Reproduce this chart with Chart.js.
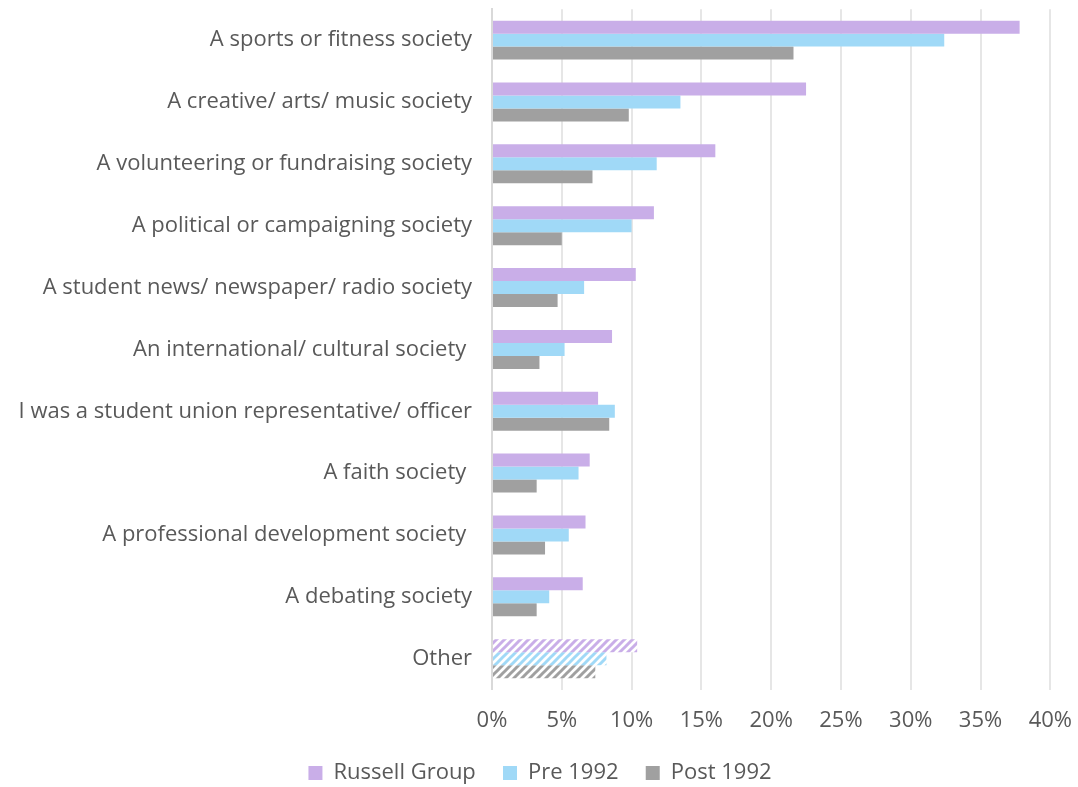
<!DOCTYPE html>
<html>
<head>
<meta charset="utf-8">
<script src="https://cdn.jsdelivr.net/npm/chart.js@4/dist/chart.umd.min.js"></script>
<style>
  html, body { margin: 0; padding: 0; background: #fff; }
  #wrap { width: 1078px; height: 787px; position: relative; overflow: hidden; }
  #inner { position: absolute; left: 0; top: -24px; width: 1090px; height: 811px; }
</style>
</head>
<body>
<div id="wrap"><div id="inner"><canvas id="chart"></canvas></div></div>
<script>
const categories = [
  "A sports or fitness society",
  "A creative/ arts/ music society",
  "A volunteering or fundraising society",
  "A political or campaigning society",
  "A student news/ newspaper/ radio society",
  "An international/ cultural society ",
  "I was a student union representative/ officer",
  "A faith society ",
  "A professional development society ",
  "A debating society",
  "Other"
];
const russellGroup = [37.8, 22.5, 16.0, 11.6, 10.3, 8.6, 7.6, 7.0, 6.7, 6.5, 10.4];
const pre1992 = [32.4, 13.5, 11.8, 10.0, 6.6, 5.2, 8.8, 6.2, 5.5, 4.1, 8.2];
const post1992 = [21.6, 9.8, 7.2, 5.0, 4.7, 3.4, 8.4, 3.2, 3.8, 3.2, 7.4];
const seriesNames = ["Russell Group", "Pre 1992", "Post 1992"];
const xTicks = [0, 5, 10, 15, 20, 25, 30, 35, 40];

const colors = ["#c9aee8", "#a0d9f7", "#a0a0a0"];
const FONT = "'Open Sans', 'Liberation Sans', sans-serif";
const textColor = "#595959";

// diagonal stripes for the "Other" row
function hatch(color) {
  const c = document.createElement("canvas");
  c.width = 8; c.height = 8;
  const g = c.getContext("2d");
  g.fillStyle = "#fff";
  g.fillRect(0, 0, 8, 8);
  g.strokeStyle = color;
  g.lineWidth = 3;
  g.beginPath();
  g.moveTo(-2, 10); g.lineTo(10, -2);
  g.moveTo(-6, 6); g.lineTo(6, -6);
  g.moveTo(2, 14); g.lineTo(14, 2);
  g.stroke();
  return g.createPattern(c, "repeat");
}

function fills(i) {
  const p = hatch(colors[i]);
  return categories.map(c => c === "Other" ? p : colors[i]);
}

const ctx = document.getElementById("chart");
new Chart(ctx, {
  type: "bar",
  data: {
    labels: categories,
    datasets: [
      { label: seriesNames[0], data: russellGroup, backgroundColor: fills(0) },
      { label: seriesNames[1], data: pre1992, backgroundColor: fills(1) },
      { label: seriesNames[2], data: post1992, backgroundColor: fills(2) }
    ]
  },
  options: {
    indexAxis: "y",
    responsive: true,
    maintainAspectRatio: false,
    animation: false,
    datasets: { bar: { categoryPercentage: 0.63, barPercentage: 1.0 } },
    layout: { padding: { top: 0, right: 10, left: 0, bottom: -7 } },
    scales: {
      x: {
        min: 0, max: 40,
        afterBuildTicks: axis => { axis.ticks = xTicks.map(v => ({ value: v })); },
        grid: { color: "#e6e6e6", lineWidth: 2, drawTicks: false },
        border: { display: false },
        ticks: {
          color: textColor, font: { family: FONT, size: 22 }, padding: 18,
          callback: v => v + "%"
        }
      },
      y: {
        afterFit: axis => { axis.width = 492; },
        grid: { display: false, drawTicks: false },
        border: { display: true, color: "#d9d9d9", width: 2 },
        ticks: { color: textColor, font: { family: FONT, size: 22 }, padding: 20 }
      }
    },
    plugins: {
      legend: {
        position: "bottom",
        labels: {
          color: textColor,
          font: { family: FONT, size: 22 },
          boxWidth: 14, boxHeight: 14, padding: 10,
          generateLabels: chart => chart.data.datasets.map((d, i) => ({
            text: i < 2 ? d.label + "   " : d.label,
            fillStyle: colors[i], strokeStyle: colors[i],
            lineWidth: 0, datasetIndex: i, fontColor: textColor
          }))
        }
      },
      tooltip: { enabled: false }
    }
  }
});
</script>
</body>
</html>
